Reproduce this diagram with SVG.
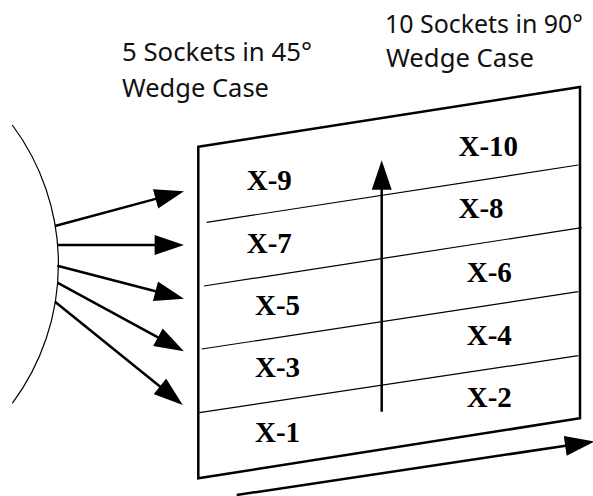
<svg xmlns="http://www.w3.org/2000/svg" width="593" height="496" viewBox="0 0 593 496">
<style>
.cap{font-family:"Noto Sans","Liberation Sans",sans-serif;font-size:26px;fill:#111}
.lbl{font-family:"Liberation Serif","Times New Roman",serif;font-weight:bold;font-size:29px;fill:#000}
.edge{fill:none;stroke:#000;stroke-width:2.5}
.div{fill:none;stroke:#000;stroke-width:1.2}
.arr{fill:none;stroke:#000;stroke-width:2.5;marker-end:url(#ah)}
</style>
<defs>
<marker id="ah" markerUnits="userSpaceOnUse" markerWidth="30" markerHeight="20" viewBox="0 0 28 19" refX="2" refY="9.5" orient="auto">
<path d="M0,0 L28,9.5 L0,19 z" fill="#000"/>
</marker>
</defs>
<rect width="593" height="496" fill="#fff"/>
<g id="caption-45">
<text class="cap" x="122" y="61" textLength="190" lengthAdjust="spacingAndGlyphs">5 Sockets in 45°</text>
<text class="cap" x="122" y="96.5" textLength="147" lengthAdjust="spacingAndGlyphs">Wedge Case</text>
</g>
<g id="caption-90">
<text class="cap" x="385" y="33.3" textLength="198" lengthAdjust="spacingAndGlyphs" style="font-size:25px">10 Sockets in 90°</text>
<text class="cap" x="386" y="67.3" textLength="148" lengthAdjust="spacingAndGlyphs">Wedge Case</text>
</g>
<g id="source">
<path class="div" d="M12.3,125 A233,233 0 0 1 12.3,403.3" stroke-width="1.4"/>
</g>
<g id="panel">
<polygon class="edge" points="198.3,146.7 580,87 580,418.3 198.3,478.3"/>
<line class="div" x1="206.7" y1="222.3" x2="578.3" y2="165"/>
<line class="div" x1="204" y1="286" x2="581.7" y2="227.7"/>
<line class="div" x1="201.7" y1="349" x2="578.3" y2="291.7"/>
<line class="div" x1="199.3" y1="412.7" x2="578.3" y2="355.7"/>
</g>
<g id="X-10"><text class="lbl" x="458.5" y="155.5">X-10</text></g>
<g id="X-9"><text class="lbl" x="246.7" y="190">X-9</text></g>
<g id="X-8"><text class="lbl" x="458.5" y="218.3">X-8</text></g>
<g id="X-7"><text class="lbl" x="246.7" y="252.7">X-7</text></g>
<g id="X-6"><text class="lbl" x="466.7" y="281.7">X-6</text></g>
<g id="X-5"><text class="lbl" x="255" y="315">X-5</text></g>
<g id="X-4"><text class="lbl" x="466.7" y="345">X-4</text></g>
<g id="X-3"><text class="lbl" x="255" y="377.3">X-3</text></g>
<g id="X-2"><text class="lbl" x="466.7" y="406.7">X-2</text></g>
<g id="X-1"><text class="lbl" x="255" y="441.7">X-1</text></g>
<g id="connectors">
<line class="arr" x1="55" y1="226" x2="157.6" y2="198.4"/>
<line class="arr" x1="57.3" y1="245" x2="156.7" y2="245"/>
<line class="arr" x1="57.3" y1="265.7" x2="157.5" y2="291.8"/>
<line class="arr" x1="57.3" y1="282.7" x2="159.8" y2="338.3"/>
<line class="arr" x1="55" y1="301.7" x2="161.5" y2="387.7"/>
<line class="arr" x1="381.7" y1="411.7" x2="381.7" y2="187.7"/>
<line class="arr" x1="236.7" y1="495" x2="567.3" y2="445.5"/>
</g>
</svg>
